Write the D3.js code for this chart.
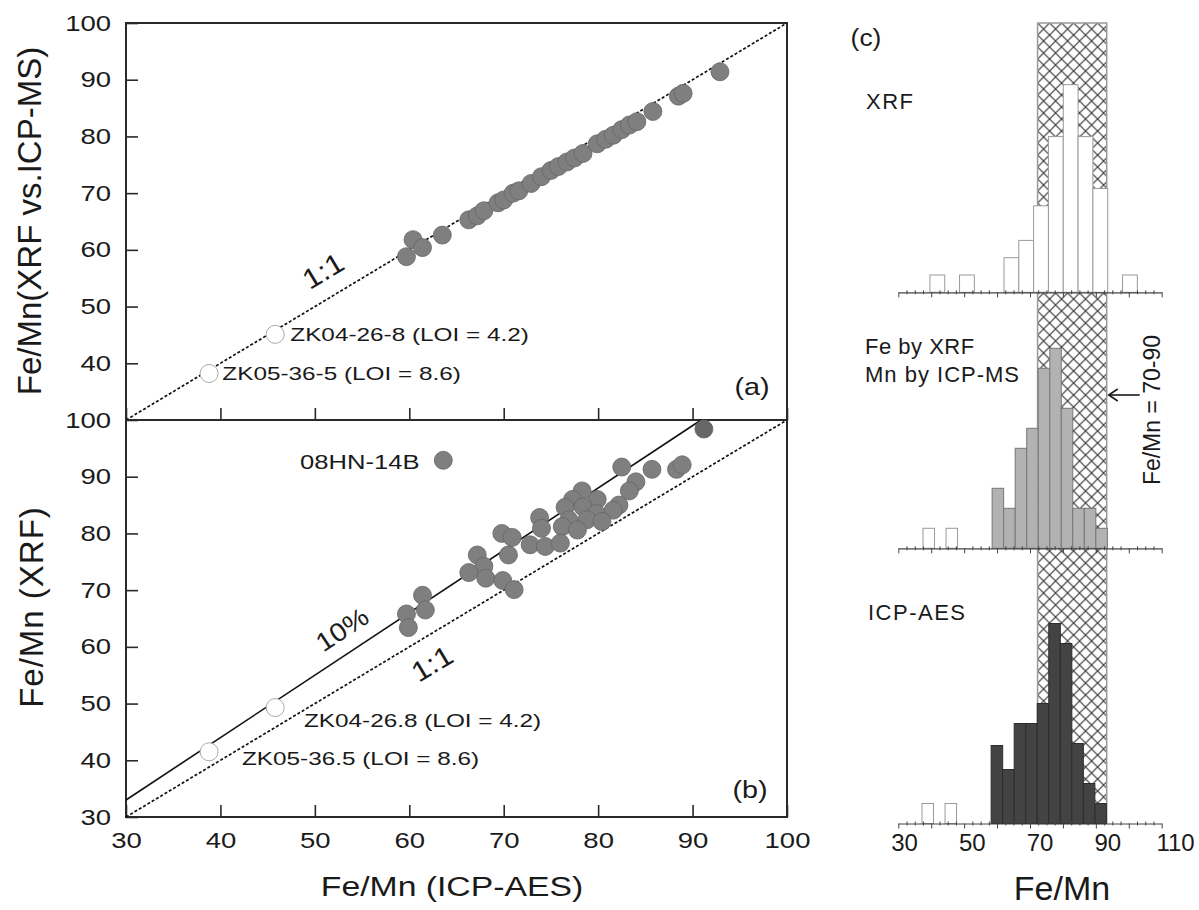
<!DOCTYPE html>
<html>
<head>
<meta charset="utf-8">
<script src="https://cdn.jsdelivr.net/npm/d3@7"></script>
<style>
  body { margin: 0; background: #fff; }
  svg { display: block; font-family: "Liberation Sans", Arial, sans-serif; }
</style>
</head>
<body>
<svg width="1199" height="910"></svg>
<script>
// ---- data ----
// panel (a): XRF vs ICP-MS against ICP-AES
var aX = [59.7, 60.4, 61.4, 63.5, 66.3, 67.2, 67.9, 69.4, 70.0, 71.0, 71.6, 72.9, 74.0, 75.0, 75.8, 76.7, 77.5, 78.4, 79.9, 80.8, 81.6, 82.5, 83.3, 84.1, 85.8, 88.5, 89.0, 92.9]
var aY = [58.8, 61.8, 60.4, 62.6, 65.3, 66.0, 66.9, 68.3, 68.8, 70.0, 70.4, 71.7, 72.9, 74.0, 74.7, 75.5, 76.2, 77.0, 78.7, 79.5, 80.2, 81.2, 82.0, 82.6, 84.4, 87.1, 87.6, 91.4]
var aOpenX = [38.8, 45.8]
var aOpenY = [38.2, 45.1]

// panel (b): XRF against ICP-AES
var bX = [63.6, 91.2, 82.5, 85.7, 88.3, 88.9, 84.0, 83.3, 78.3, 77.3, 79.9, 76.5, 78.4, 82.2, 81.6, 79.8, 78.8, 80.4, 76.9, 76.2, 77.8, 73.8, 74.0, 69.8, 70.9, 72.8, 74.4, 76.0, 70.5, 67.2, 67.9, 66.3, 68.1, 69.9, 71.1, 61.4, 61.7, 59.7, 59.9]
var bY = [92.9, 98.4, 91.7, 91.3, 91.3, 92.1, 89.1, 87.5, 87.5, 86.0, 86.0, 84.6, 84.7, 85.0, 84.1, 83.5, 82.4, 82.1, 82.4, 81.2, 80.6, 82.8, 80.9, 80.0, 79.3, 78.0, 77.7, 78.3, 76.2, 76.2, 74.2, 73.1, 72.1, 71.7, 70.1, 69.1, 66.5, 65.8, 63.4]
var bOpenX = [38.8, 45.8]
var bOpenY = [41.5, 49.3]

var oneToOneX = [30, 100], oneToOneY = [30, 100]
var tenPctX = [30, 90.9], tenPctY = [33, 100]

var xTicks = [30, 40, 50, 60, 70, 80, 90, 100]
var yTicksA = [40, 50, 60, 70, 80, 90, 100]
var yTicksB = [30, 40, 50, 60, 70, 80, 90, 100]

// panel (c): histograms (bin start, count)
var xrfStart = [39.6, 48.6, 62.1, 66.6, 71.1, 75.6, 80.1, 84.6, 89.1, 98.1]
var xrfCount = [1, 1, 2, 3, 5, 9, 12, 9, 6, 1]
var xrfWidth = 4.5

var msOutStart = [37.5, 44.5]
var msOutCount = [1, 1]
var msStart = [58.5, 62, 65.5, 69, 72.5, 76, 79.5, 83, 86.5, 90]
var msCount = [3, 2, 5, 6, 9, 10, 7, 2, 2, 1]
var msWidth = 3.5

var aesOutStart = [37.2, 44.2]
var aesOutCount = [1, 1]
var aesStart = [58.2, 61.7, 65.2, 68.7, 72.2, 75.7, 79.2, 82.7, 86.2, 89.7]
var aesCount = [3.9, 2.7, 5, 5, 6, 10, 9, 4, 2, 1]
var aesWidth = 3.5

var hatchRange = [72.3, 93.3]
var cTickLabels = [30, 50, 70, 90, 110]

// ---- setup ----
var svg = d3.select('svg')
var ink = '#1a1a1a'

function label(g, str, x, y, o) {
    o = o || {}
    var t = g.append('text')
        .attr('transform', 'translate(' + x + ',' + y + ') rotate(' + (o.rot || 0) + ') scale(' + (o.sx || 1) + ',1)')
        .attr('font-size', o.size || 20)
        .attr('text-anchor', o.anchor || 'start')
        .attr('fill', ink)
        .text(str)
    if (o.ls) t.attr('letter-spacing', o.ls)
    return t
}

var x = d3.scaleLinear().domain([30, 100]).range([126, 787])
var yA = d3.scaleLinear().domain([30, 100]).range([420, 23])
var yB = d3.scaleLinear().domain([30, 100]).range([817, 420])

var tickSx = 1.25

function drawPanel(y, yTicks, showX) {
    var g = svg.append('g')

    // frame
    g.append('rect')
        .attr('x', x(30)).attr('y', y(100))
        .attr('width', x(100) - x(30)).attr('height', y(30) - y(100))
        .attr('fill', 'none').attr('stroke', '#2a2a2a').attr('stroke-width', 2)

    var ax = g.append('g').attr('transform', 'translate(' + x(30) + ',0)')
        .call(d3.axisLeft(y).tickValues(yTicks).tickSize(-12).tickPadding(16).tickFormat(d3.format('d')))
    ax.select('.domain').remove()
    ax.selectAll('line').attr('stroke', '#2a2a2a').attr('stroke-width', 1.6)
    ax.selectAll('text').attr('font-size', 22).attr('fill', ink)
        .attr('x', -15 / tickSx).attr('transform', 'scale(' + tickSx + ',1)')

    var bx = g.append('g').attr('transform', 'translate(0,' + y(30) + ')')
        .call(d3.axisBottom(x).tickValues(xTicks).tickSize(-12).tickPadding(15)
            .tickFormat(showX ? d3.format('d') : ''))
    bx.select('.domain').remove()
    bx.selectAll('line').attr('stroke', '#2a2a2a').attr('stroke-width', 1.6)
    bx.selectAll('text').attr('font-size', 22).attr('fill', ink)
        .attr('transform', 'scale(' + tickSx + ',1)')
    return g
}

var line = d3.line().x(function(d) { return x(d[0]) })

// ---- panel (a) ----
var gA = drawPanel(yA, yTicksA, false)
gA.append('path')
    .attr('d', line.y(function(d) { return yA(d[1]) })(d3.zip(oneToOneX, oneToOneY)))
    .attr('stroke', '#111').attr('stroke-width', 1.7).attr('stroke-dasharray', '3,2').attr('fill', 'none')
gA.selectAll('circle.f').data(d3.zip(aX, aY)).enter().append('circle')
    .attr('cx', function(d) { return x(d[0]) }).attr('cy', function(d) { return yA(d[1]) })
    .attr('r', 9).attr('fill', '#7f7f7f').attr('stroke', '#666').attr('stroke-width', 0.8)
gA.selectAll('circle.o').data(d3.zip(aOpenX, aOpenY)).enter().append('circle')
    .attr('cx', function(d) { return x(d[0]) }).attr('cy', function(d) { return yA(d[1]) })
    .attr('r', 9).attr('fill', '#fff').attr('stroke', '#aaa').attr('stroke-width', 1)
label(gA, '1:1', x(51.4), yA(56.4) + 9, { size: 28, rot: -31, anchor: 'middle', sx: 1.1 })
label(gA, 'ZK04-26-8 (LOI = 4.2)', x(47.4), yA(45.1) + 7, { size: 19, sx: 1.28 })
label(gA, 'ZK05-36-5 (LOI = 8.6)', x(40.2), yA(38.2) + 7, { size: 19, sx: 1.28 })
label(gA, '(a)', 752, 395, { size: 24, anchor: 'middle', sx: 1.2 })

// ---- panel (b) ----
var gB = drawPanel(yB, yTicksB, true)
var lineB = line.y(function(d) { return yB(d[1]) })
gB.append('path')
    .attr('d', lineB(d3.zip(oneToOneX, oneToOneY)))
    .attr('stroke', '#111').attr('stroke-width', 1.7).attr('stroke-dasharray', '3,2').attr('fill', 'none')
gB.append('path')
    .attr('d', lineB(d3.zip(tenPctX, tenPctY)))
    .attr('stroke', '#111').attr('stroke-width', 1.6).attr('fill', 'none')
gB.selectAll('circle.f').data(d3.zip(bX, bY)).enter().append('circle')
    .attr('cx', function(d) { return x(d[0]) }).attr('cy', function(d) { return yB(d[1]) })
    .attr('r', 9).attr('fill', function(d, i) { return i === 1 ? '#666' : '#7f7f7f' })
    .attr('stroke', '#666').attr('stroke-width', 0.8)
gB.selectAll('circle.o').data(d3.zip(bOpenX, bOpenY)).enter().append('circle')
    .attr('cx', function(d) { return x(d[0]) }).attr('cy', function(d) { return yB(d[1]) })
    .attr('r', 9).attr('fill', '#fff').attr('stroke', '#aaa').attr('stroke-width', 1)
label(gB, '08HN-14B', 300, 469, { size: 20, sx: 1.28 })
label(gB, '10%', 347, 637, { size: 26, rot: -33.5, anchor: 'middle', sx: 1.1 })
label(gB, '1:1', 437, 672, { size: 28, rot: -31, anchor: 'middle', sx: 1.1 })
label(gB, 'ZK04-26.8 (LOI = 4.2)', 304, 727, { size: 19, sx: 1.28 })
label(gB, 'ZK05-36.5 (LOI = 8.6)', 242, 765, { size: 19, sx: 1.28 })
label(gB, '(b)', 750, 798, { size: 24, anchor: 'middle', sx: 1.2 })

// axis titles
label(svg, 'Fe/Mn (ICP-AES)', 452, 896, { size: 27, anchor: 'middle', sx: 1.25 })
label(svg, 'Fe/Mn(XRF vs.ICP-MS)', 41, 221, { size: 33, anchor: 'middle', rot: -90 })
label(svg, 'Fe/Mn (XRF)', 43, 607, { size: 33, anchor: 'middle', rot: -90, ls: 1 })

// ---- panel (c) ----
var xc = d3.scaleLinear().domain([30, 110]).range([898.3, 1161.7])
var xcLab = d3.scaleLinear().domain([30, 110]).range([904, 1175])
var yc1 = d3.scaleLinear().domain([0, 12]).range([292.3, 292.3 - 12 * 17.3])
var yc2 = d3.scaleLinear().domain([0, 10]).range([548.3, 348.3])
var yc3 = d3.scaleLinear().domain([0, 10]).range([823.5, 623.5])

var gC = svg.append('g')

var defs = svg.append('defs')
var pat = defs.append('pattern').attr('id', 'xhatch')
    .attr('patternUnits', 'userSpaceOnUse').attr('width', 12).attr('height', 12)
    .attr('x', xc(hatchRange[0])).attr('y', 23)
pat.append('rect').attr('width', 12).attr('height', 12).attr('fill', '#fff')
pat.append('path').attr('d', 'M0,0L12,12M12,0L0,12M-1,11L1,13M11,-1L13,1')
    .attr('stroke', '#3a3a3a').attr('stroke-width', 1.2)

gC.append('rect')
    .attr('x', xc(hatchRange[0])).attr('y', 23)
    .attr('width', xc(hatchRange[1]) - xc(hatchRange[0])).attr('height', yc3(0) - 23)
    .attr('fill', 'url(#xhatch)').attr('stroke', '#999').attr('stroke-width', 1.5)

function bars(starts, counts, w, y, fill, stroke) {
    gC.append('g').selectAll('rect').data(d3.zip(starts, counts)).enter().append('rect')
        .attr('x', function(d) { return xc(d[0]) })
        .attr('y', function(d) { return y(d[1]) })
        .attr('width', function(d) { return xc(d[0] + w) - xc(d[0]) })
        .attr('height', function(d) { return y(0) - y(d[1]) })
        .attr('fill', fill).attr('stroke', stroke).attr('stroke-width', 1)
}

function histAxis(y) {
    var base = y(0)
    var minor = d3.range(30, 110.01, 2.5)
    var a = gC.append('g').attr('transform', 'translate(0,' + base + ')')
        .call(d3.axisBottom(xc).tickValues(minor).tickSize(0).tickFormat(''))
    a.select('.domain').attr('stroke', '#444').attr('stroke-width', 1.2)
    a.selectAll('.tick line')
        .attr('y1', function(d) { return d % 10 === 0 ? 0 : -2 })
        .attr('y2', function(d) { return d % 10 === 0 ? 5 : 2 })
        .attr('stroke', '#444').attr('stroke-width', 1)
}

bars(xrfStart, xrfCount, xrfWidth, yc1, '#fff', '#9a9a9a')
histAxis(yc1)
bars(msOutStart, msOutCount, msWidth, yc2, '#fff', '#9a9a9a')
bars(msStart, msCount, msWidth, yc2, '#b2b2b2', '#777')
histAxis(yc2)
bars(aesOutStart, aesOutCount, aesWidth, yc3, '#fff', '#9a9a9a')
bars(aesStart, aesCount, aesWidth, yc3, '#434343', '#2c2c2c')
histAxis(yc3)

var labAx = gC.append('g').attr('transform', 'translate(0,' + yc3(0) + ')')
    .call(d3.axisBottom(xcLab).tickValues(cTickLabels).tickSize(0).tickPadding(10).tickFormat(d3.format('d')))
labAx.select('.domain').remove()
labAx.selectAll('text').attr('font-size', 24).attr('fill', ink)

label(gC, '(c)', 866, 46, { size: 24, anchor: 'middle', sx: 1.1 })
label(gC, 'XRF', 866, 109, { size: 22, ls: 1.5 })
label(gC, 'Fe by XRF', 865, 354, { size: 22, ls: 0.5 })
label(gC, 'Mn by ICP-MS', 865, 382, { size: 22, ls: 1 })
label(gC, 'ICP-AES', 868, 620, { size: 22, ls: 1.5 })
label(gC, 'Fe/Mn', 1062, 900, { size: 34, anchor: 'middle' })
label(gC, 'Fe/Mn = 70-90', 1160, 410, { size: 23, anchor: 'middle', rot: -90 })

// arrow pointing at the hatch edge
gC.append('path').attr('d', 'M' + (xc(hatchRange[1]) + 33) + ',395H' + (xc(hatchRange[1]) + 2))
    .attr('stroke', ink).attr('stroke-width', 1.6).attr('fill', 'none')
gC.append('path').attr('d', 'M' + (xc(hatchRange[1]) + 11) + ',389L' + (xc(hatchRange[1]) + 2) + ',395L' + (xc(hatchRange[1]) + 11) + ',401')
    .attr('stroke', ink).attr('stroke-width', 1.6).attr('fill', 'none')
</script>
</body>
</html>
